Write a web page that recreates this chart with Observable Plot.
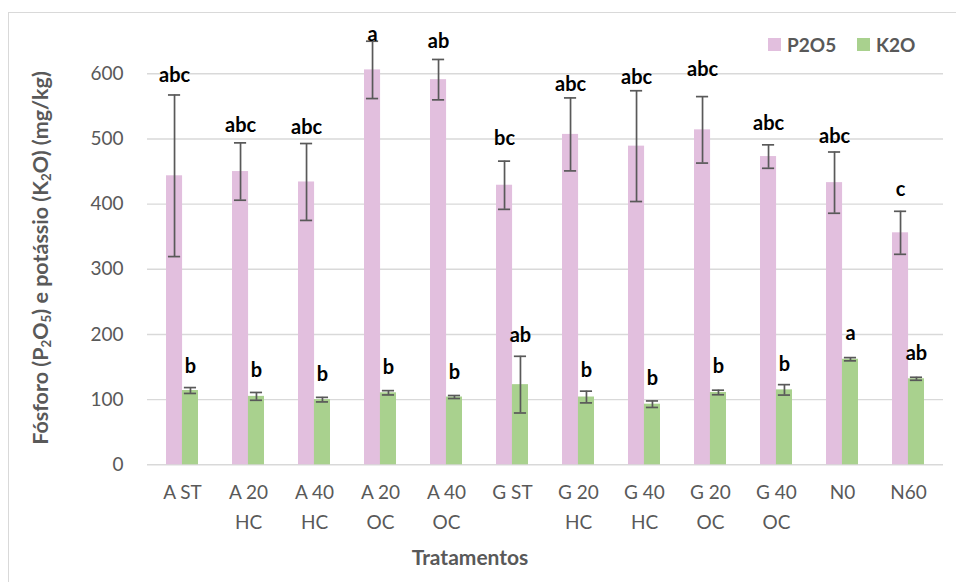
<!DOCTYPE html>
<html>
<head>
<meta charset="utf-8">
<script src="https://cdn.jsdelivr.net/npm/d3@7"></script>
<script src="https://cdn.jsdelivr.net/npm/@observablehq/plot@0.6"></script>
<style>
  html, body { margin: 0; padding: 0; background: #fff; }
  #wrap { position: relative; width: 956px; height: 582px; overflow: hidden; font-family: Lato, "Open Sans", sans-serif; background: #fff; }
  #border { position: absolute; left: 8px; top: 12px; width: 1200px; height: 1000px; border-left: 1.5px solid #D9D9D9; border-top: 1.5px solid #D9D9D9; }
  #chart { position: absolute; left: 0; top: 0; }
  .ytitle { position: absolute; left: 40px; top: 258px; transform: translate(-50%, -50%) rotate(-90deg); white-space: nowrap; font-weight: bold; font-size: 21.5px; color: #595959; }
  .ytitle sub { font-size: 0.62em; vertical-align: -0.25em; line-height: 0; }
  .xtitle { position: absolute; left: 470px; top: 556px; transform: translate(-50%, -50%); white-space: nowrap; font-weight: bold; font-size: 21px; color: #595959; }
  .legend { position: absolute; top: 33px; font-weight: bold; font-size: 19px; color: #595959; display: flex; align-items: center; white-space: nowrap; }
  .legend .sw { display: inline-block; width: 13px; height: 13px; margin-right: 6px; }
</style>
</head>
<body>
<div id="wrap">
  <div id="border"></div>
  <div id="chart"></div>
  <div class="ytitle">Fósforo (P<sub>2</sub>O<sub>5</sub>) e potássio (K<sub>2</sub>O) (mg/kg)</div>
  <div class="xtitle">Tratamentos</div>
  <div class="legend" id="leg1" style="left:768px;"></div>
  <div class="legend" id="leg2" style="left:857px;"></div>
</div>
<script>
// ---- data ----
const categories = ["A ST", "A 20\nHC", "A 40\nHC", "A 20\nOC", "A 40\nOC", "G ST", "G 20\nHC", "G 40\nHC", "G 20\nOC", "G 40\nOC", "N0", "N60"];
const seriesNames = ["P2O5", "K2O"];
const seriesColors = ["#E2BFDE", "#A9D18E"];

const p2o5 = [443.5, 450, 434, 606, 591, 429, 507, 489, 514, 473, 433, 356];
const p2o5Err = [124, 44, 59, 44, 31, 37, 56, 85, 51, 18, 47, 33];
const p2o5Letters = ["abc", "abc", "abc", "a", "ab", "bc", "abc", "abc", "abc", "abc", "abc", "c"];
const p2o5LabelY = [587, 511, 508, 651, 640, 490, 573, 585, 596, 513, 494, 413];

const k2o = [114, 105, 100, 110.5, 104, 123, 104, 93, 111, 115, 162, 132];
const k2oErr = [4.5, 6, 3.5, 3.3, 2.3, 43.5, 9, 5, 3.5, 8, 2.5, 2.3];
const k2oLetters = ["b", "b", "b", "b", "b", "ab", "b", "b", "b", "b", "a", "ab"];
const k2oLabelY = [141, 134, 128, 139, 132, 188, 134, 123, 141, 144, 191, 161];

const yTicks = [0, 100, 200, 300, 400, 500, 600];

// ---- build rows ----
const rows = [];
categories.forEach((c, i) => {
  rows.push({cat: c, series: "P2O5", value: p2o5[i], err: p2o5Err[i], letter: p2o5Letters[i], ly: p2o5LabelY[i]});
  rows.push({cat: c, series: "K2O", value: k2o[i], err: k2oErr[i], letter: k2oLetters[i], ly: k2oLabelY[i]});
});
const P = rows.filter(d => d.series === "P2O5");
const K = rows.filter(d => d.series === "K2O");

// layout
const W = 956, H = 582;
const mL = 147, mR = 13, mT = 73.3, mB = 117.7;
const padInner = 0.52, padOuter = 0.26;
const step = (W - mL - mR) / (categories.length - padInner + 2 * padOuter);
const bw = step * (1 - padInner);
const half = bw / 2;
const q = half / 2;
const capInset = (half - 12) / 2;
const errColor = "#595959";

const chart = Plot.plot({
  width: W,
  height: H,
  marginLeft: mL,
  marginRight: mR,
  marginTop: mT,
  marginBottom: mB,
  style: {fontFamily: "Lato, 'Open Sans', sans-serif", color: "#595959", background: "transparent", overflow: "visible"},
  x: {domain: categories, paddingInner: padInner, paddingOuter: padOuter, axis: null},
  y: {domain: [0, 600], axis: null},
  color: {domain: seriesNames, range: seriesColors},
  marks: [
    Plot.gridY(yTicks, {stroke: "#D9D9D9", strokeOpacity: 1, strokeWidth: 1.4}),
    Plot.axisY(yTicks, {tickSize: 0, tickPadding: 24, fontSize: 19, label: null, fill: "#595959"}),
    Plot.text(categories, {x: d => d, text: d => d, frameAnchor: "bottom", dy: 14, lineAnchor: "top", lineHeight: 1.53, fontSize: 19, fill: "#595959"}),
    Plot.barY(P, {x: "cat", y: "value", fill: "series", insetRight: half}),
    Plot.barY(K, {x: "cat", y: "value", fill: "series", insetLeft: half}),
    // error bars
    Plot.ruleX(P, {x: "cat", y1: d => d.value - d.err, y2: d => d.value + d.err, dx: -q, stroke: errColor, strokeWidth: 1.7}),
    Plot.ruleX(K, {x: "cat", y1: d => d.value - d.err, y2: d => d.value + d.err, dx: q, stroke: errColor, strokeWidth: 1.7}),
    Plot.tickY(P, {x: "cat", y: d => d.value + d.err, insetLeft: capInset, insetRight: half + capInset, stroke: errColor, strokeWidth: 1.7}),
    Plot.tickY(P, {x: "cat", y: d => d.value - d.err, insetLeft: capInset, insetRight: half + capInset, stroke: errColor, strokeWidth: 1.7}),
    Plot.tickY(K, {x: "cat", y: d => d.value + d.err, insetLeft: half + capInset, insetRight: capInset, stroke: errColor, strokeWidth: 1.7}),
    Plot.tickY(K, {x: "cat", y: d => d.value - d.err, insetLeft: half + capInset, insetRight: capInset, stroke: errColor, strokeWidth: 1.7}),
    // letters
    Plot.text(P, {x: "cat", y: "ly", text: "letter", dx: -q, lineAnchor: "bottom", fontSize: 20, fontWeight: "bold", fill: "#000"}),
    Plot.text(K, {x: "cat", y: "ly", text: "letter", dx: q, lineAnchor: "bottom", fontSize: 20, fontWeight: "bold", fill: "#000"})
  ]
});
document.getElementById("chart").appendChild(chart);

// legend
[["leg1", 0], ["leg2", 1]].forEach(([id, i]) => {
  const el = document.getElementById(id);
  const sw = document.createElement("span");
  sw.className = "sw";
  sw.style.background = seriesColors[i];
  el.appendChild(sw);
  el.appendChild(document.createTextNode(seriesNames[i]));
});
</script>
</body>
</html>
